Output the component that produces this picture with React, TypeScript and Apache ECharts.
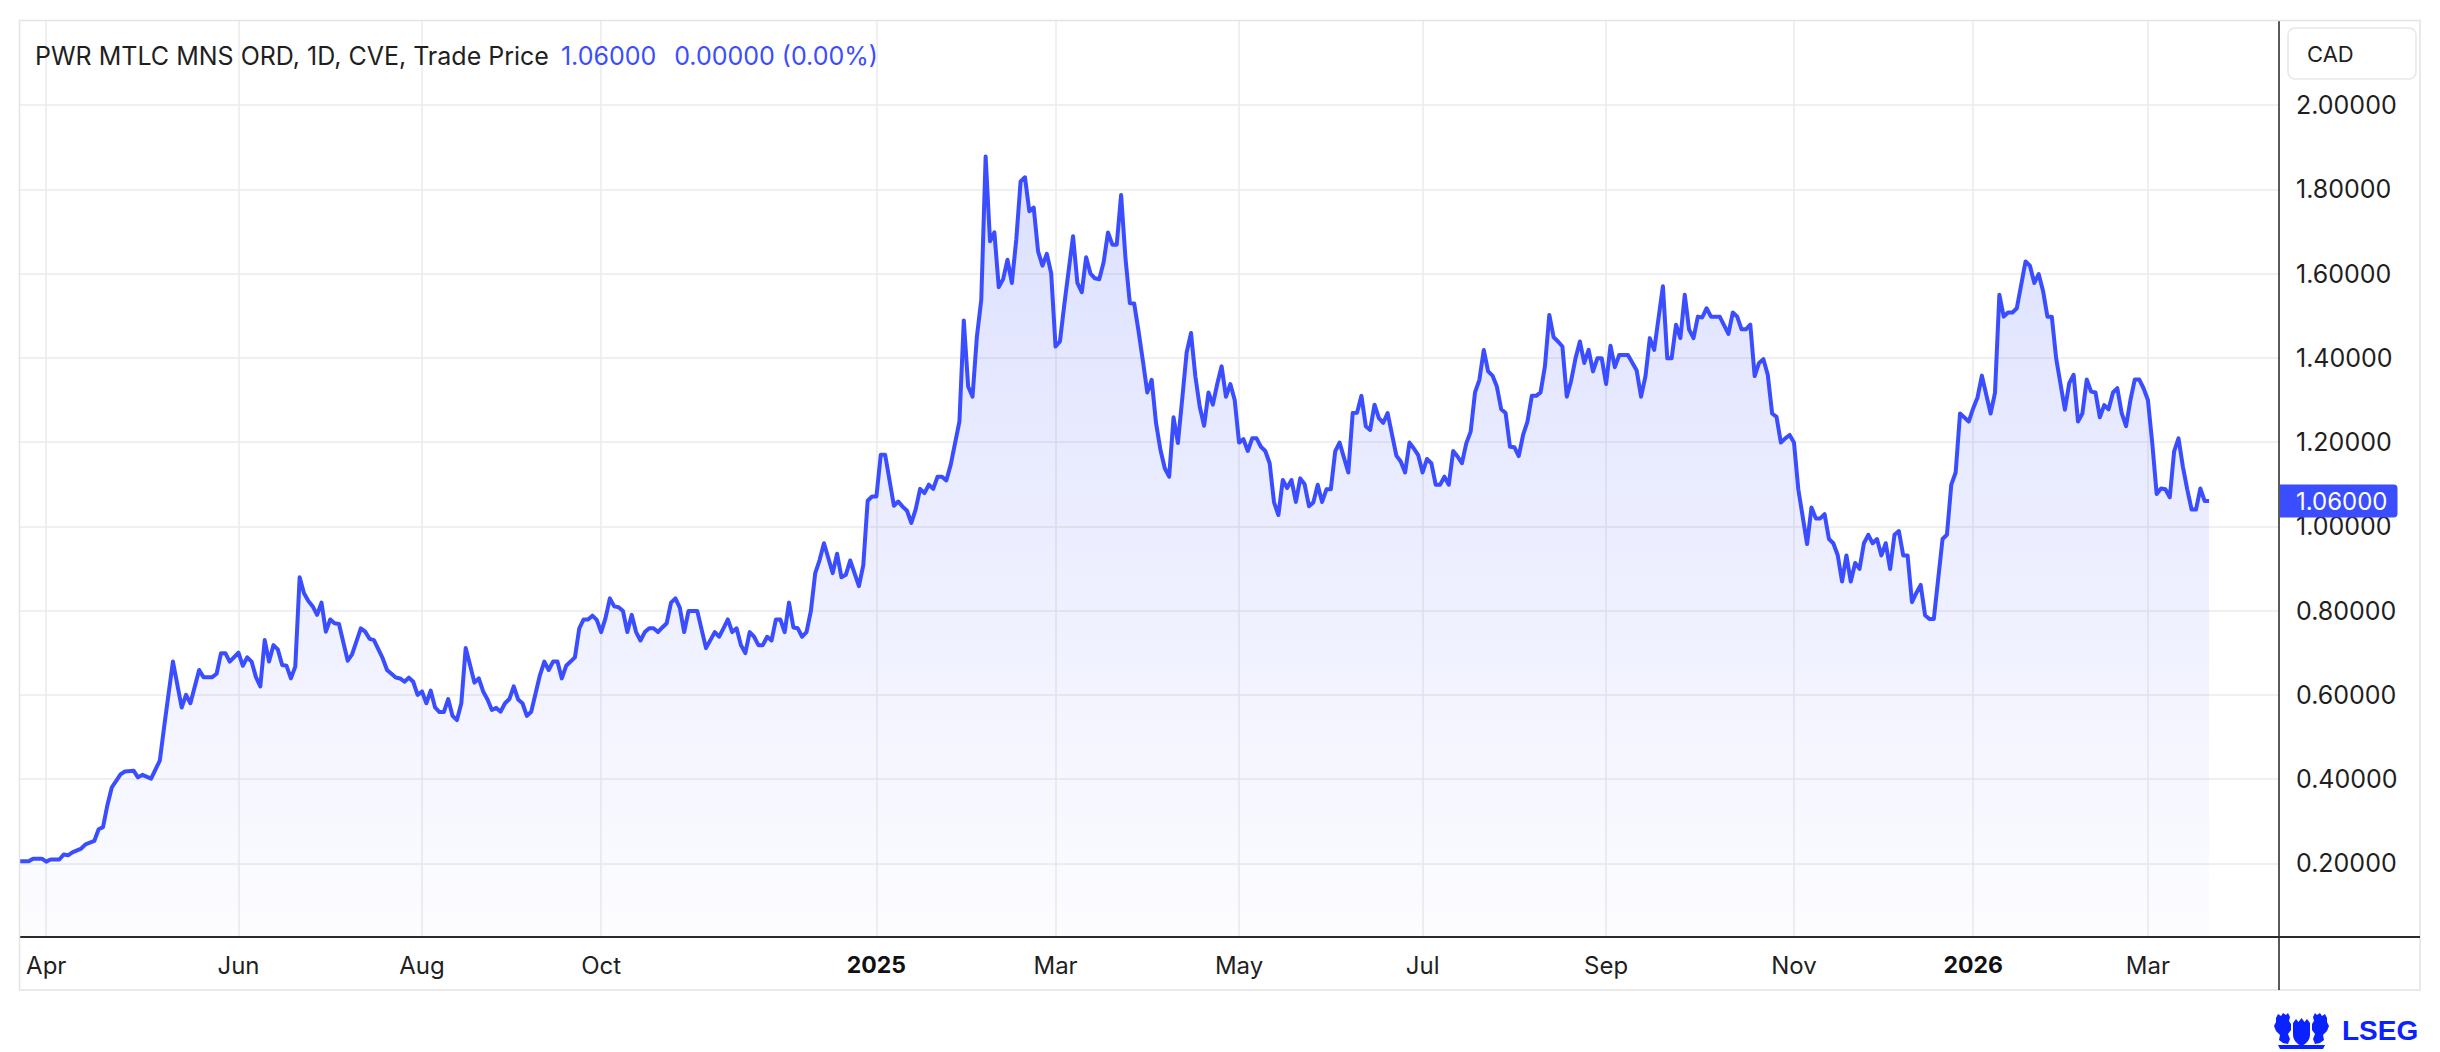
import React, { useEffect, useRef } from "react";
import * as echarts from "echarts";

// ---------- data ----------
const START_DATE = "2024-03-21";
const END_DATE = "2026-04-14";
const exchangeHolidays = [
  "2024-03-29", "2024-05-20", "2024-07-01", "2024-08-05", "2024-09-02", "2024-10-14",
  "2024-12-25", "2024-12-26", "2025-01-01", "2025-02-17", "2025-04-18", "2025-05-19",
  "2025-07-01", "2025-08-04", "2025-09-01", "2025-10-13", "2025-12-25", "2025-12-26",
  "2026-01-01", "2026-02-16", "2026-04-03",
];

const tickMonths = [
  "2024-04", "2024-06", "2024-08", "2024-10", "2025-01", "2025-03",
  "2025-05", "2025-07", "2025-09", "2025-11", "2026-01", "2026-03",
];
const tickLabels = ["Apr", "Jun", "Aug", "Oct", "2025", "Mar", "May", "Jul", "Sep", "Nov", "2026", "Mar"];
const yearLabels = ["2025", "2026"];
const priceTicks = [0.2, 0.4, 0.6, 0.8, 1.0, 1.2, 1.4, 1.6, 1.8, 2.0];

// trading-day number (from START_DATE) and close price
const priceDay = [
  0, 2, 3, 5, 6, 7, 9, 10, 11, 12, 14, 15, 17, 18, 19, 20, 21, 23, 24, 26, 27, 28, 30, 32, 33, 35, 37, 38, 39, 41,
  42, 44, 45, 46, 47, 48, 50, 51, 52, 53, 54, 55, 56, 57, 58, 59, 60, 61, 62, 63, 64, 65, 66, 67, 68, 69, 70, 71, 72, 73,
  75, 76, 78, 79, 80, 81, 83, 84, 86,
  87, 88, 89, 90, 91, 92, 93, 94, 95, 96, 97, 98, 99, 100, 101, 102, 103, 104, 105, 106, 107, 108, 109, 110, 111, 112,
  113, 114, 115, 116, 117, 119, 120, 121, 122, 123, 124, 125, 127, 128, 129, 130, 131, 132, 133, 134, 135, 136, 137, 138,
  139, 140, 141, 142, 143, 144, 145, 146, 147, 148, 149, 150, 151, 152, 153, 155, 157, 159, 160, 161, 162, 163, 164, 165,
  166, 167, 168, 169, 170, 171, 172, 173, 174, 175, 176, 177, 178, 179, 180,
  181, 182, 183, 184, 186, 187, 188, 189, 190, 192, 193, 194, 195, 196, 197, 198, 200, 201, 202, 203, 204, 205, 206, 207,
  208, 209, 210, 211, 212, 213, 215, 216, 217, 218, 219, 220, 221, 222, 223, 224, 225, 226, 227, 228, 229, 230, 231, 232,
  233, 234, 235, 236, 237, 238, 239, 241, 242, 243, 244, 245, 246, 247, 248, 249, 250, 251, 252, 253, 254, 255, 256, 257,
  258, 259, 260, 261, 262, 263, 264, 265, 266, 267, 268, 269, 270, 271, 272, 273, 274,
  275, 276, 277, 278, 279, 280, 281, 282, 283, 284, 285, 286, 287, 288, 289, 290, 291, 292, 293, 294, 295, 296, 297, 298,
  299, 300, 301, 302, 304, 305, 306, 307, 308, 309, 310, 311, 312, 313, 315, 316, 317, 318, 319, 320, 321, 322, 323, 324,
  325, 326, 327, 328, 329, 330, 331, 332, 333, 334, 335, 336, 337, 338, 339, 340, 341, 342, 343, 344, 345, 346, 347, 348,
  349, 350, 351, 352, 353, 354, 355, 356, 357, 358, 359, 360, 361, 362, 363, 364, 365, 366,
  368, 370, 371, 372, 373, 374, 376, 377, 378, 379, 380, 381, 382, 383, 384, 385, 386, 387, 389, 391, 392, 393, 394, 395,
  396, 397, 398, 399, 400, 401, 402, 403, 404, 405, 406, 407, 409, 410, 411, 412, 413, 414, 415, 416, 417, 418, 419, 420,
  421, 422, 423, 424, 425, 426, 427, 428, 429, 430, 431, 432, 433, 434, 435, 436, 437, 438, 440, 441, 442, 443, 444, 446,
  447, 448, 449, 451, 452, 453, 454, 455, 456, 457,
  459, 460, 461, 462, 463, 464, 465, 466, 468, 469, 470, 471, 472, 473, 474, 475, 476, 477, 478, 479, 480, 481, 482, 483,
  484, 485, 486, 487, 488, 489, 490, 491, 492, 493, 494, 495, 496, 497, 498, 499, 500, 501,
];
const priceValue = [
  0.205, 0.205, 0.211, 0.211, 0.204, 0.209, 0.209, 0.221, 0.219, 0.226, 0.235, 0.245, 0.253, 0.281, 0.286, 0.338, 0.38, 0.411, 0.418, 0.42, 0.404, 0.41, 0.401, 0.444, 0.525, 0.679, 0.57, 0.6, 0.58, 0.659,
  0.642, 0.642, 0.65, 0.699, 0.699, 0.679, 0.7, 0.669, 0.689, 0.679, 0.642, 0.62, 0.73, 0.679, 0.718, 0.708, 0.671, 0.669, 0.639, 0.667, 0.879, 0.841, 0.823, 0.81, 0.79, 0.819, 0.75, 0.779, 0.77, 0.768,
  0.681, 0.696, 0.758, 0.75, 0.733, 0.73, 0.687, 0.659, 0.641,
  0.639, 0.631, 0.641, 0.631, 0.6, 0.608, 0.58, 0.61, 0.57, 0.559, 0.559, 0.59, 0.55, 0.54, 0.58, 0.711, 0.671, 0.629, 0.639, 0.608, 0.589, 0.564, 0.569, 0.56, 0.58, 0.59,
  0.62, 0.589, 0.58, 0.55, 0.56, 0.647, 0.679, 0.659, 0.679, 0.679, 0.639, 0.669, 0.689, 0.758, 0.779, 0.779, 0.788, 0.778, 0.749, 0.782, 0.829, 0.81, 0.808, 0.799,
  0.749, 0.79, 0.749, 0.729, 0.749, 0.758, 0.758, 0.749, 0.76, 0.77, 0.819, 0.829, 0.807, 0.749, 0.799, 0.799, 0.711, 0.749, 0.738, 0.758, 0.779, 0.749, 0.758, 0.718,
  0.699, 0.749, 0.738, 0.718, 0.718, 0.738, 0.729, 0.779, 0.779, 0.749, 0.819, 0.76, 0.758, 0.738, 0.749,
  0.799, 0.889, 0.92, 0.96, 0.889, 0.935, 0.879, 0.885, 0.919, 0.858, 0.908, 1.061, 1.071, 1.071, 1.17, 1.17, 1.049, 1.059, 1.047, 1.037, 1.008, 1.041, 1.089, 1.079,
  1.099, 1.089, 1.118, 1.118, 1.109, 1.146, 1.249, 1.489, 1.332, 1.308, 1.451, 1.538, 1.878, 1.677, 1.698, 1.568, 1.587, 1.633, 1.578, 1.68, 1.819, 1.829, 1.748, 1.757,
  1.653, 1.619, 1.647, 1.601, 1.427, 1.439, 1.526, 1.689, 1.578, 1.556, 1.639, 1.6, 1.589, 1.587, 1.627, 1.698, 1.669, 1.669, 1.787, 1.637, 1.53, 1.529, 1.463, 1.392,
  1.318, 1.348, 1.245, 1.182, 1.138, 1.118, 1.259, 1.198, 1.304, 1.413, 1.459, 1.356, 1.284, 1.239, 1.318, 1.289, 1.338,
  1.38, 1.308, 1.338, 1.3, 1.199, 1.207, 1.179, 1.209, 1.209, 1.189, 1.179, 1.15, 1.057, 1.027, 1.11, 1.091, 1.11, 1.058, 1.114, 1.1, 1.048, 1.057, 1.099, 1.058,
  1.088, 1.088, 1.178, 1.199, 1.128, 1.269, 1.27, 1.31, 1.238, 1.229, 1.289, 1.257, 1.246, 1.269, 1.168, 1.154, 1.128, 1.199, 1.185, 1.169, 1.128, 1.16, 1.15, 1.099,
  1.099, 1.118, 1.099, 1.179, 1.166, 1.15, 1.197, 1.225, 1.318, 1.348, 1.419, 1.368, 1.358, 1.332, 1.278, 1.269, 1.189, 1.188, 1.167, 1.217, 1.249, 1.31, 1.31, 1.318,
  1.38, 1.502, 1.449, 1.439, 1.427, 1.308, 1.346, 1.399, 1.439, 1.388, 1.419, 1.368, 1.399, 1.399, 1.338, 1.429, 1.378, 1.407,
  1.407, 1.37, 1.308, 1.356, 1.447, 1.419, 1.57, 1.399, 1.399, 1.479, 1.447, 1.55, 1.467, 1.447, 1.498, 1.496, 1.518, 1.498, 1.498, 1.457, 1.508, 1.498, 1.468, 1.468,
  1.479, 1.357, 1.388, 1.397, 1.36, 1.268, 1.26, 1.199, 1.209, 1.217, 1.199, 1.087, 0.958, 1.045, 1.019, 1.019, 1.029, 0.97, 0.96, 0.932, 0.869, 0.931, 0.869, 0.913,
  0.899, 0.96, 0.98, 0.96, 0.97, 0.931, 0.96, 0.899, 0.98, 0.989, 0.931, 0.931, 0.82, 0.842, 0.861, 0.789, 0.78, 0.78, 0.97, 0.98, 1.099, 1.128, 1.268, 1.249,
  1.28, 1.306, 1.358, 1.268, 1.317, 1.55, 1.498, 1.508, 1.508, 1.518,
  1.629, 1.619, 1.578, 1.599, 1.559, 1.498, 1.498, 1.399, 1.277, 1.34, 1.36, 1.249, 1.268, 1.349, 1.32, 1.318, 1.259, 1.288, 1.278, 1.318, 1.328, 1.269, 1.238, 1.3,
  1.349, 1.349, 1.328, 1.3, 1.197, 1.077, 1.09, 1.088, 1.069, 1.178, 1.209, 1.142, 1.088, 1.04, 1.04, 1.09, 1.06, 1.06,
];

// ---------- styling constants ----------
const W = 2440;
const H = 1052;
const GRID_L = 20;
const GRID_R = 2279;
const GRID_T = 21;
const GRID_B = 937;
const FRAME_R = 2420;
const FRAME_B = 990;
const BLUE = "#3A4DFF";
const LOGO_BLUE = "#0a22ff";
const FONT = 'Inter, "Noto Sans", Roboto, sans-serif';

function buildTradingDays(): string[] {
  const out: string[] = [];
  const hol = new Set(exchangeHolidays);
  const d = new Date(START_DATE + "T00:00:00Z");
  const end = new Date(END_DATE + "T00:00:00Z");
  while (d.getTime() <= end.getTime()) {
    const wd = d.getUTCDay();
    const s = d.toISOString().slice(0, 10);
    if (wd !== 0 && wd !== 6 && !hol.has(s)) out.push(s);
    d.setUTCDate(d.getUTCDate() + 1);
  }
  return out;
}

// simplified heraldic crest (two supporters, shield, banner)
const CREST =
  "M3 6 L5 2 L8 4 L10 1 L13 3 L15 1 L17 5 L16 9 L18 12 L18 18 L15 22 L17 27 L15 32 L10 31 L6 28 L7 23 L3 19 L1 14 L3 10 Z " +
  "M54 6 L52 2 L49 4 L47 1 L44 3 L42 1 L40 5 L41 9 L39 12 L39 18 L42 22 L40 27 L42 32 L47 31 L51 28 L50 23 L54 19 L56 14 L54 10 Z " +
  "M20 11 L23 7 L25.5 10 L28.5 6 L31.5 10 L34 7 L37 11 L37 23 Q37 30 28.5 34 Q20 30 20 23 Z " +
  "M5 33 L52 33 L50 37 L7 37 Z";

let crestRegistered = false;

export default function App() {
  const ref = useRef<HTMLDivElement>(null);

  useEffect(() => {
    document.body.style.margin = "0";
    if (!crestRegistered) {
      echarts.graphic.registerShape("lsegCrest", echarts.graphic.extendPath(CREST, {}) as any);
      crestRegistered = true;
    }
    const el = ref.current!;
    const chart = echarts.init(el, null, { renderer: "svg", width: W, height: H });

    const tradingDays = buildTradingDays();
    const tickIndex = new Map<number, string>();
    tickMonths.forEach((m, k) => {
      const i = tradingDays.findIndex((d) => d.startsWith(m));
      if (i >= 0) tickIndex.set(i, tickLabels[k]);
    });
    const isTick = (i: number) => tickIndex.has(i);

    const seriesData = priceDay.map((d, i) => [tradingDays[d], priceValue[i]]);
    const last = priceValue[priceValue.length - 1];
    const prev = priceValue[priceValue.length - 2];
    const chg = last - prev;
    const pct = prev ? (chg / prev) * 100 : 0;

    const option: any = {
      animation: false,
      backgroundColor: "#ffffff",
      textStyle: { fontFamily: FONT },
      grid: { left: GRID_L, right: W - GRID_R, top: GRID_T, bottom: H - GRID_B, containLabel: false },
      xAxis: {
        type: "category",
        data: tradingDays,
        boundaryGap: false,
        axisLine: { show: true, onZero: false, lineStyle: { color: "#2a2a2a", width: 2 } },
        axisTick: { show: false },
        axisLabel: {
          interval: (i: number) => isTick(i),
          formatter: (_v: string, i: number) => {
            const lab = tickIndex.get(i) || "";
            return yearLabels.includes(lab) ? `{yr|${lab}}` : lab;
          },
          margin: 16,
          fontSize: 24,
          color: "#1f1f1f",
          fontFamily: FONT,
          rich: { yr: { fontWeight: "bold", fontSize: 23, color: "#111", fontFamily: FONT } },
        },
        splitLine: {
          show: true,
          interval: (i: number) => isTick(i),
          lineStyle: { color: "#ebebeb", width: 1.5 },
        },
      },
      yAxis: {
        type: "value",
        position: "right",
        min: 0.025,
        max: 2.2,
        axisLine: { show: true, lineStyle: { color: "#222", width: 1.5 } },
        axisTick: { show: false, customValues: priceTicks },
        axisLabel: {
          customValues: priceTicks,
          formatter: (v: number) => v.toFixed(5),
          margin: 17,
          fontSize: 25,
          color: "#1f1f1f",
          fontFamily: FONT,
        },
        splitLine: { show: true, lineStyle: { color: "#ebebeb", width: 1.5 } },
      },
      series: [
        {
          type: "line",
          data: seriesData,
          symbol: "none",
          showSymbol: false,
          lineStyle: { color: BLUE, width: 4, join: "round" },
          areaStyle: {
            color: new echarts.graphic.LinearGradient(0, 0, 0, 1, [
              { offset: 0, color: "rgba(58,77,255,0.25)" },
              { offset: 1, color: "rgba(58,77,255,0.02)" },
            ]),
          },
          markLine: {
            silent: true,
            symbol: "none",
            animation: false,
            lineStyle: { color: "rgba(0,0,0,0)", width: 0 },
            label: {
              show: true,
              position: "end",
              distance: 1,
              formatter: () => last.toFixed(5),
              backgroundColor: BLUE,
              color: "#ffffff",
              fontSize: 24,
              fontFamily: FONT,
              padding: [5, 10, 4, 16],
              borderRadius: [0, 4, 4, 0],
            },
            data: [{ yAxis: last }],
          },
        },
      ],
      graphic: [
        {
          type: "rect",
          silent: true,
          z: 100,
          shape: { x: 19.5, y: 20.5, width: FRAME_R - 19.5, height: FRAME_B - 20.5 },
          style: { fill: "none", stroke: "#e4e4e4", lineWidth: 1.5 },
        },
        {
          type: "line",
          silent: true,
          z: 100,
          shape: { x1: GRID_R, y1: GRID_B, x2: GRID_R, y2: FRAME_B },
          style: { stroke: "#222", lineWidth: 1.5 },
        },
        {
          type: "line",
          silent: true,
          z: 100,
          shape: { x1: GRID_R, y1: GRID_B, x2: FRAME_R, y2: GRID_B },
          style: { stroke: "#2a2a2a", lineWidth: 2 },
        },
        {
          type: "rect",
          silent: true,
          z: 100,
          shape: { x: 2288, y: 28, width: 128, height: 51, r: 7 },
          style: { fill: "#ffffff", stroke: "#e8e8e8", lineWidth: 1.5 },
        },
        {
          type: "text",
          silent: true,
          z: 101,
          x: 2307,
          y: 54,
          style: { text: "CAD", fill: "#1f1f1f", font: `22px ${FONT}`, verticalAlign: "middle", align: "left" },
        },
        {
          type: "text",
          silent: true,
          z: 101,
          x: 35,
          y: 56,
          style: {
            text:
              "{t|PWR MTLC MNS ORD, 1D, CVE, Trade Price}{g| }{v|" +
              last.toFixed(5) +
              "}{g2| }{v|" +
              chg.toFixed(5) +
              " (" +
              pct.toFixed(2) +
              "%)}",
            verticalAlign: "middle",
            align: "left",
            rich: {
              t: { fontSize: 25, fontFamily: FONT, fill: "#1f1f1f", color: "#1f1f1f" },
              v: { fontSize: 25, fontFamily: FONT, fill: BLUE, color: BLUE },
              g: { width: 12, fontSize: 25 },
              g2: { width: 18, fontSize: 25 },
            },
          },
        },
        {
          type: "lsegCrest",
          silent: true,
          z: 101,
          x: 2273,
          y: 1012,
          scaleX: 1,
          scaleY: 1,
          style: { fill: LOGO_BLUE },
        },
        {
          type: "text",
          silent: true,
          z: 101,
          x: 2342,
          y: 1030,
          style: {
            text: "LSEG",
            fill: LOGO_BLUE,
            font: 'bold 28px "Liberation Sans", Arial, sans-serif',
            verticalAlign: "middle",
            align: "left",
          },
        },
      ],
    };

    chart.setOption(option);
    return () => {
      chart.dispose();
    };
  }, []);

  return <div ref={ref} style={{ width: W, height: H }} />;
}
